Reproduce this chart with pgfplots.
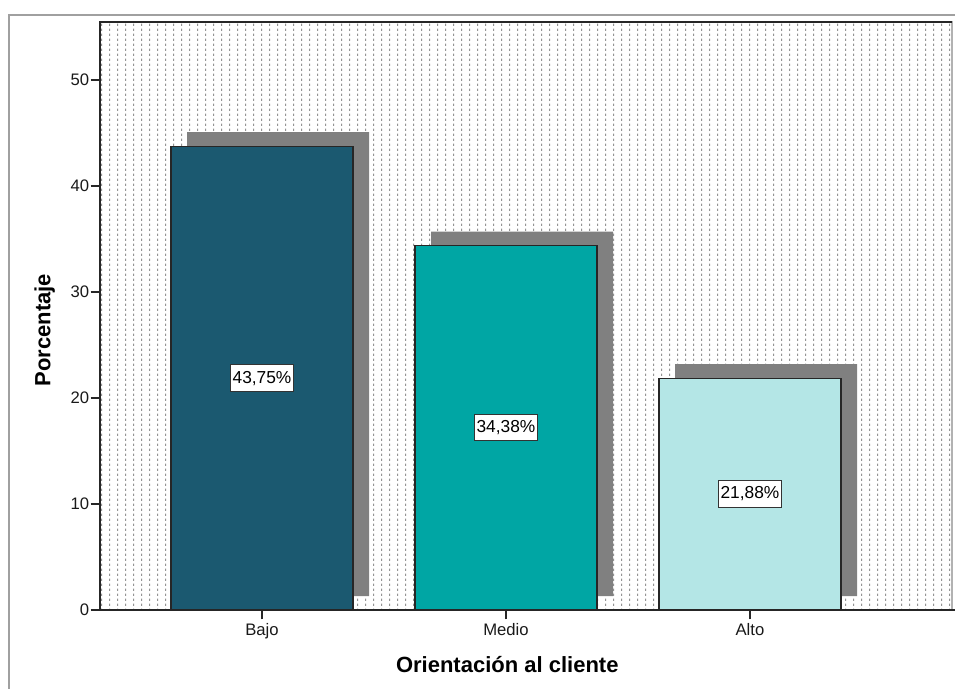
\documentclass[border=0pt]{standalone}
\usepackage{pgfplots}
\pgfplotsset{compat=1.18}
\usepackage{fontspec}
\setmainfont{Liberation Sans}
\usetikzlibrary{patterns}

\definecolor{bajo}{RGB}{27,89,112}
\definecolor{medio}{RGB}{0,166,164}
\definecolor{alto}{RGB}{180,230,230}
\definecolor{shadowgray}{RGB}{128,128,128}
\definecolor{framegray}{RGB}{160,160,160}

\pgfdeclarepatternformonly{spssdots}{\pgfqpoint{0pt}{0pt}}{\pgfqpoint{5.7pt}{4.1pt}}{\pgfqpoint{5.7pt}{4.1pt}}{%
  \pgfpathrectangle{\pgfqpoint{2.5pt}{1pt}}{\pgfqpoint{0.8pt}{1.7pt}}%
  \pgfusepath{fill}%
}

\begin{document}
\begin{tikzpicture}
\useasboundingbox (0,0) rectangle (716.25pt,516pt);
\clip (0,0) rectangle (716.25pt,516pt);
\draw[framegray, line width=1.1pt] (6.75pt,504.75pt) rectangle (740pt,-20pt);
\begin{axis}[
  at={(75pt,58.5pt)}, anchor=south west,
  scale only axis, width=639pt, height=441pt,
  xmin=-0.664, xmax=2.828, ymin=0, ymax=55.47,
  axis background/.style={preaction={fill=white}, pattern=spssdots, pattern color=black!42},
  axis line style={black!30, line width=0.8pt},
  xtick={0,1,2}, xticklabels={Bajo,Medio,Alto},
  ytick={0,10,20,30,40,50},
  tick align=outside, tick style={black!85, line width=0.8pt},
  major tick length=7pt,
  xtick pos=bottom, ytick pos=left,
  /pgf/number format/assume math mode=true,
  ticklabel style={font=\fontsize{12.5}{15}\selectfont, text=black!90},
  xticklabel style={inner sep=1pt, yshift=-1.5pt},
  yticklabel style={inner sep=1pt},
  xlabel={Orientación al cliente},
  ylabel={Porcentaje},
  xlabel style={at={(axis description cs:0.478,-0.092)}, anchor=center, font=\bfseries\fontsize{16.5}{19}\selectfont},
  ylabel style={at={(axis description cs:-0.065,0.476)}, anchor=center, font=\bfseries\fontsize{16.5}{19}\selectfont},
  clip=false,
]
% shadows
\addplot[fill=shadowgray, draw=none] coordinates {(-0.307,1.32) (0.439,1.32) (0.439,45.07) (-0.307,45.07) (-0.307,1.32)};
\addplot[fill=shadowgray, draw=none] coordinates {(0.693,1.32) (1.439,1.32) (1.439,35.70) (0.693,35.70) (0.693,1.32)};
\addplot[fill=shadowgray, draw=none] coordinates {(1.693,1.32) (2.439,1.32) (2.439,23.20) (1.693,23.20) (1.693,1.32)};
% bars
\addplot[ybar, bar width=0.746, bar shift=0pt, fill=bajo, draw=black!85, line width=0.8pt] coordinates {(0,43.75)};
\addplot[ybar, bar width=0.746, bar shift=0pt, fill=medio, draw=black!85, line width=0.8pt] coordinates {(1,34.38)};
\addplot[ybar, bar width=0.746, bar shift=0pt, fill=alto, draw=black!85, line width=0.8pt] coordinates {(2,21.88)};
% labels
\addplot[draw=none, mark=none, nodes near coords, point meta=explicit symbolic,
  every node near coord/.style={anchor=center, fill=white, draw=black!80, line width=0.8pt, inner xsep=1.5pt, inner ysep=4.5pt, font=\fontsize{13}{15}\selectfont, text=black}]
  table[meta=lab] {
x y lab
0 21.875 43,75\%
1 17.19 34,38\%
2 10.94 21,88\%
};
% frame: dark left, top and bottom edges
\draw[black!85, line width=0.8pt] (rel axis cs:1,1) -- (rel axis cs:0,1) -- (rel axis cs:0,0) -- (rel axis cs:1.01,0);
\end{axis}
\end{tikzpicture}
\end{document}
